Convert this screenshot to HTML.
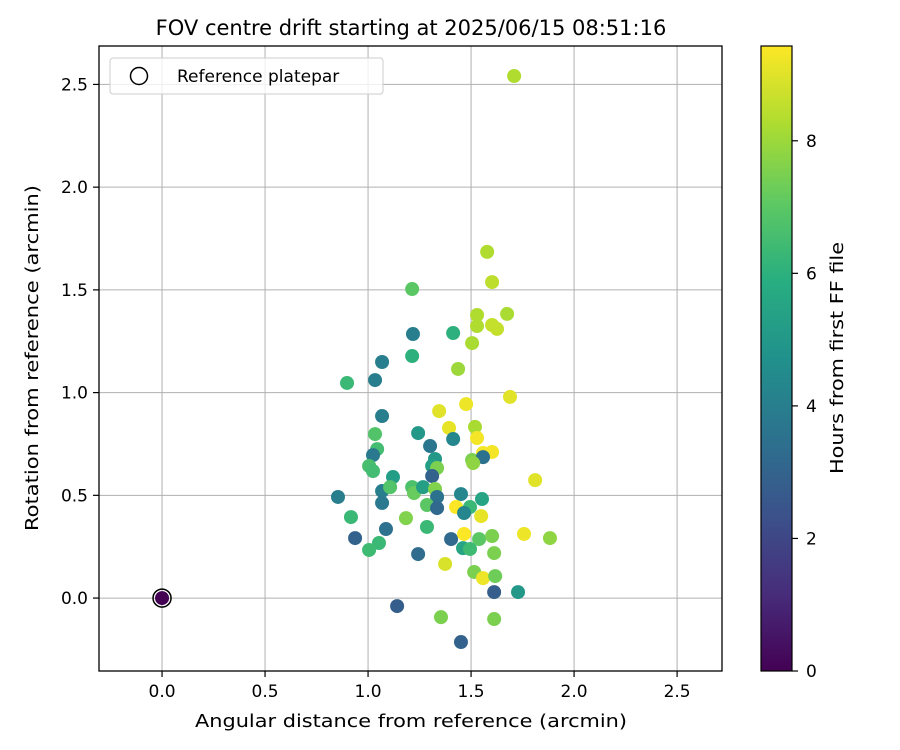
<!DOCTYPE html>
<html><head><meta charset="utf-8"><style>
body{margin:0;background:#fff}
svg{display:block;font-family:"DejaVu Sans","Liberation Sans",sans-serif}
</style></head><body>
<svg id="chart" width="900" height="750" viewBox="0 0 900 750" xmlns="http://www.w3.org/2000/svg">
<defs>
<linearGradient id="viridis" x1="0" y1="1" x2="0" y2="0">
<stop offset="0" stop-color="#440154"/><stop offset="0.125" stop-color="#472d7b"/><stop offset="0.25" stop-color="#3b528b"/><stop offset="0.375" stop-color="#2c728e"/><stop offset="0.5" stop-color="#21918c"/><stop offset="0.625" stop-color="#28ae80"/><stop offset="0.75" stop-color="#5ec962"/><stop offset="0.875" stop-color="#addc30"/><stop offset="1" stop-color="#fde725"/>
</linearGradient>
</defs>
<text x="411" y="35" font-size="21" text-anchor="middle">FOV centre drift starting at 2025/06/15 08:51:16</text>
<g id="grid"></g>
<g id="points"></g>
<rect x="99" y="46" width="623" height="625" fill="none" stroke="#000" stroke-width="1.3"/>
<g id="ticks"></g>
<text x="411" y="727" font-size="18" text-anchor="middle" textLength="432" lengthAdjust="spacingAndGlyphs">Angular distance from reference (arcmin)</text>
<text transform="translate(38,358) rotate(-90)" font-size="18" text-anchor="middle" textLength="346" lengthAdjust="spacingAndGlyphs">Rotation from reference (arcmin)</text>
<g>
<rect x="110" y="58" width="273" height="36" rx="3" fill="#fff" fill-opacity="0.8" stroke="#ccc"/>
<circle cx="139" cy="76" r="8.5" fill="none" stroke="#000" stroke-width="1.5"/>
<text x="177" y="82" font-size="17">Reference platepar</text>
</g>
<rect x="761" y="46" width="31" height="625" fill="url(#viridis)" stroke="#000" stroke-width="1.2"/>
<g id="cbticks"></g>
<text transform="translate(843,358) rotate(-90)" font-size="18" text-anchor="middle" textLength="232" lengthAdjust="spacingAndGlyphs">Hours from first FF file</text>
</svg>
<script>
const xTicks=[0,0.5,1,1.5,2,2.5];
const yTicks=[0,0.5,1,1.5,2,2.5];
const cbTicks=[0,2,4,6,8];
const xVals=[1.709,1.578,1.602,1.214,1.529,1.675,1.529,1.602,1.626,1.218,1.413,1.505,1.068,1.214,1.437,0.898,1.034,1.689,1.476,1.345,1.068,1.393,1.519,1.034,1.243,1.413,1.529,1.301,1.044,1.558,1.602,1.024,1.325,1.505,1.558,1.005,1.024,1.311,1.335,1.311,1.510,1.121,1.068,1.107,1.214,1.223,1.267,1.325,1.335,1.451,1.553,0.854,1.068,1.286,1.335,1.427,1.495,1.466,1.549,1.811,0.917,1.184,1.286,1.087,0.937,1.053,1.005,1.243,1.403,1.466,1.461,1.495,1.539,1.602,1.757,1.883,1.612,1.374,1.515,1.558,1.617,1.612,1.728,1.141,1.354,1.612,1.451];
const yVals=[2.541,1.685,1.538,1.504,1.378,1.383,1.324,1.329,1.310,1.285,1.290,1.241,1.149,1.178,1.115,1.047,1.061,0.979,0.944,0.910,0.886,0.828,0.833,0.798,0.803,0.774,0.779,0.740,0.725,0.706,0.711,0.696,0.677,0.672,0.686,0.643,0.618,0.643,0.633,0.594,0.657,0.589,0.521,0.540,0.540,0.511,0.540,0.531,0.492,0.506,0.482,0.492,0.463,0.453,0.438,0.443,0.443,0.414,0.399,0.574,0.394,0.389,0.346,0.336,0.292,0.268,0.234,0.214,0.287,0.312,0.243,0.239,0.287,0.302,0.312,0.292,0.219,0.166,0.127,0.097,0.107,0.029,0.029,-0.039,-0.093,-0.102,-0.214];
const hours=[8.3,8.3,8.5,7,8.3,8.2,8.3,8.6,8.6,4,6,8.2,4,6,8,6.3,4,9,9.2,9,4,9.1,8.2,6.8,5,4.3,9.3,3.7,6.5,9.3,9.3,3.8,5,7.5,3.5,6.6,6.5,5.3,7.5,3,7.8,5.2,4,6.8,6.7,7.2,5.3,7.6,3.5,4.3,5.5,4,3.8,7,3.2,9.4,6.3,4.3,9.1,9,6.3,7.6,6.3,3.5,3,6.3,6.4,3.3,3.2,9.4,5.5,6.4,7,7.5,9.2,7.8,7.5,8.9,7.5,9.2,7.3,2.8,5,2.8,7.5,7.5,3];
const refX=[0], refY=[0], refHour=[0];
const X0=-0.306,X1=2.718,Y0=-0.355,Y1=2.687,H1=9.43;
const sx=v=>99+(v-X0)/(X1-X0)*623;
const sy=v=>671-(v-Y0)/(Y1-Y0)*625;
const sc=v=>671-v/H1*625;
const vir=["#440154","#472d7b","#3b528b","#2c728e","#21918c","#28ae80","#5ec962","#addc30","#fde725"];
function hex(c){return [1,3,5].map(i=>parseInt(c.substr(i,2),16));}
function cmap(h){let t=Math.max(0,Math.min(1,h/H1))*8;let i=Math.min(7,Math.floor(t));let f=t-i;let a=hex(vir[i]),b=hex(vir[i+1]);return "rgb("+a.map((v,k)=>Math.round(v+(b[k]-v)*f)).join(",")+")";}
const NS="http://www.w3.org/2000/svg";
function mk(tag,attrs,parent){const e=document.createElementNS(NS,tag);for(const k in attrs)e.setAttribute(k,attrs[k]);parent.appendChild(e);return e;}
const grid=document.getElementById('grid'),ticks=document.getElementById('ticks'),pts=document.getElementById('points'),cbt=document.getElementById('cbticks');
xTicks.forEach(v=>{const x=sx(v);
const g=mk('line',{x1:x,x2:x,y1:46,y2:671,stroke:'#b0b0b0','stroke-width':1},grid);


mk('line',{x1:x,x2:x,y1:671,y2:677,stroke:'#000','stroke-width':1.2},ticks);
const t=mk('text',{x:x,y:697,'font-size':17,'text-anchor':'middle'},ticks);t.textContent=v.toFixed(1);

});
yTicks.forEach(v=>{const y=sy(v);
const g=mk('line',{x1:99,x2:722,y1:y,y2:y,stroke:'#b0b0b0','stroke-width':1},grid);


mk('line',{x1:93,x2:99,y1:y,y2:y,stroke:'#000','stroke-width':1.2},ticks);
const t=mk('text',{x:88,y:y+6,'font-size':17,'text-anchor':'end'},ticks);t.textContent=v.toFixed(1);

});
cbTicks.forEach(v=>{const y=sc(v);
mk('line',{x1:792,x2:798,y1:y,y2:y,stroke:'#000','stroke-width':1.2},cbt);
const t=mk('text',{x:806,y:y+6,'font-size':17},cbt);t.textContent=v;

});
xVals.forEach((v,i)=>{const c=mk('circle',{cx:sx(v),cy:sy(yVals[i]),r:7,fill:cmap(hours[i])},pts);

});
refX.forEach((v,i)=>{const c=mk('circle',{cx:sx(v),cy:sy(refY[i]),r:7,fill:cmap(refHour[i])},pts);


const r=mk('circle',{cx:sx(v),cy:sy(refY[i]),r:9,fill:'none',stroke:'#000','stroke-width':1.5},pts);

});
</script>
</body></html>
